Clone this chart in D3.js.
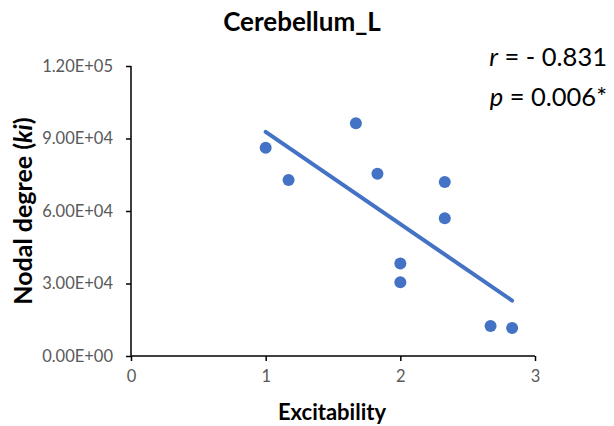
<!DOCTYPE html>
<html>
<head>
<meta charset="utf-8">
<script src="https://cdn.jsdelivr.net/npm/d3@7"></script>
<style>
  body { margin: 0; background: #fff; }
  svg { font-family: Lato, "Open Sans", sans-serif; }
  .axis path, .axis line { stroke: #000; stroke-width: 1.5px; }
  .axis text { fill: #595959; font-size: 16.5px; font-family: Lato, sans-serif; }
</style>
</head>
<body>
<div id="chart"></div>
<script>
// Excitability (x) vs nodal degree (y)
const excitability = [1.00, 1.17, 1.67, 1.83, 2.33, 2.33, 2.00, 2.00, 2.67, 2.83];
const nodalDegree = [86200, 72800, 96300, 75400, 72000, 57000, 38300, 30500, 12400, 11600];
const xTicks = [0, 1, 2, 3];
const yTicks = [0, 30000, 60000, 90000, 120000];
const yTickLabels = ['0.00E+00', '3.00E+04', '6.00E+04', '9.00E+04', '1.20E+05'];
const title = 'Cerebellum_L';
const rText = '- 0.831';
const pText = '0.006*';

const width = 614, height = 426;
const color = '#4472C4';

function linearFit(xs, ys) {
  // least squares trendline, like the spreadsheet one
  const n = xs.length;
  const mx = d3.mean(xs), my = d3.mean(ys);
  let sxy = 0, sxx = 0;
  for (let i = 0; i < n; i++) {
    sxy += (xs[i] - mx) * (ys[i] - my);
    sxx += (xs[i] - mx) * (xs[i] - mx);
  }
  const slope = sxy / sxx;
  return x => my + slope * (x - mx);
}

function draw() {
  const svg = d3.select('#chart').append('svg')
    .attr('width', width)
    .attr('height', height);

  const x = d3.scaleLinear().domain([0, 3]).range([131, 535]);
  const y = d3.scaleLinear().domain([0, 120000]).range([356, 66]);

  svg.append('g')
    .attr('class', 'axis')
    .attr('transform', `translate(0,${y(0)})`)
    .call(d3.axisBottom(x).tickValues(xTicks).tickFormat(d3.format('d'))
      .tickSize(5).tickSizeOuter(0).tickPadding(9))
    .call(g => g.select('.domain').attr('d', `M${x(0)},0H${x(3)}`));

  svg.append('g')
    .attr('class', 'axis')
    .attr('transform', `translate(${x(0)},0)`)
    .call(d3.axisLeft(y).tickValues(yTicks).tickSize(5).tickSizeOuter(0).tickPadding(13)
      .tickFormat((d, i) => yTickLabels[i]))
    .call(g => g.select('.domain').attr('d', `M0,${y(0)}V${y(120000)}`));

  // trendline
  const fit = linearFit(excitability, nodalDegree);
  const x0 = d3.min(excitability), x1 = d3.max(excitability);
  svg.append('path')
    .attr('d', d3.line()([[x(x0), y(fit(x0))], [x(x1), y(fit(x1))]]))
    .attr('stroke', color)
    .attr('stroke-width', 4)
    .attr('stroke-linecap', 'round')
    .attr('fill', 'none');

  svg.append('g')
    .selectAll('circle')
    .data(excitability)
    .enter().append('circle')
    .attr('cx', d => x(d))
    .attr('cy', (d, i) => y(nodalDegree[i]))
    .attr('r', 6)
    .attr('fill', color);

  svg.append('text')
    .attr('x', 302)
    .attr('y', 31)
    .attr('text-anchor', 'middle')
    .style('font-size', '26px')
    .style('font-weight', 'bold')
    .text(title);

  svg.append('text')
    .attr('x', 332)
    .attr('y', 420)
    .attr('text-anchor', 'middle')
    .style('font-size', '22px')
    .style('font-weight', 'bold')
    .text('Excitability');

  const yl = svg.append('text')
    .attr('transform', 'translate(32,211) rotate(-90)')
    .attr('text-anchor', 'middle')
    .style('font-size', '25px')
    .style('font-weight', 'bold');
  yl.append('tspan').text('Nodal degree (');
  yl.append('tspan').style('font-style', 'italic').text('ki');
  yl.append('tspan').text(')');

  const r = svg.append('text')
    .attr('x', 607).attr('y', 66)
    .attr('text-anchor', 'end')
    .style('font-size', '25.5px');
  r.append('tspan').style('font-style', 'italic').text('r');
  r.append('tspan').text(' = ' + rText);

  const p = svg.append('text')
    .attr('x', 607).attr('y', 106)
    .attr('text-anchor', 'end')
    .style('font-size', '25.5px');
  p.append('tspan').style('font-style', 'italic').text('p');
  p.append('tspan').text(' = ' + pText);
}

draw();
</script>
</body>
</html>
